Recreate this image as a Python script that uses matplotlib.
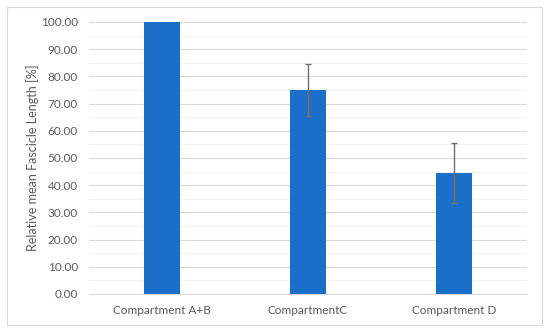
import matplotlib
matplotlib.use("Agg")
import matplotlib.pyplot as plt
from matplotlib.patches import Rectangle
from matplotlib.ticker import MultipleLocator, FormatStrFormatter

categories = ["Compartment A+B", "CompartmentC", "Compartment D"]
values = [100.0, 75.0, 44.5]
errors = [0.0, 9.7, 10.9]
ylabel = "Relative mean Fascicle Length [%]"

plt.rcParams['font.family'] = ['Lato', 'DejaVu Sans']
text_color = "#595959"

fig = plt.figure(figsize=(5.5, 3.33), dpi=100)
fig.patch.set_facecolor("white")
fig.patches.append(Rectangle((7/550, 1 - 325/333), 535/550, 318/333, transform=fig.transFigure,
                             fill=False, edgecolor="#d9d9d9", linewidth=0.8))

ax = fig.add_axes([89/550, 1 - 294/333, 438/550, 272/333])
x = list(range(len(categories)))
ax.bar(x, values, width=0.25, color="#1a70c8", zorder=3)
err_x = [xi for xi, e in zip(x, errors) if e > 0]
err_v = [v for v, e in zip(values, errors) if e > 0]
err_e = [e for e in errors if e > 0]
ax.errorbar(err_x, err_v, yerr=err_e, fmt="none", ecolor="#707070", elinewidth=1.0,
            capsize=2.2, capthick=1.0, zorder=4)

ax.set_xlim(-0.5, 2.5)
ax.set_ylim(0, 100)
ax.yaxis.set_major_locator(MultipleLocator(10))
ax.yaxis.set_minor_locator(MultipleLocator(5))
ax.yaxis.set_major_formatter(FormatStrFormatter("%.2f"))
ax.grid(axis="y", which="major", color="#d9d9d9", linewidth=0.8, zorder=0)
ax.grid(axis="y", which="minor", color="#f2f2f2", linewidth=0.8, zorder=0)
for s in ["top", "right", "left"]:
    ax.spines[s].set_visible(False)
ax.spines["bottom"].set_color("#d9d9d9")
ax.spines["bottom"].set_linewidth(0.8)
ax.tick_params(axis="y", which="both", length=0, colors=text_color, labelsize=8.5, pad=8)
ax.tick_params(axis="x", which="both", length=0, colors=text_color, labelsize=8.5, pad=8)
ax.set_xticks(x)
ax.set_xticklabels(categories)
ax.set_ylabel(ylabel, color=text_color, fontsize=9)
ax.yaxis.set_label_coords(-50/438, 0.5)

fig.savefig("out.png", dpi=100, facecolor="white")
